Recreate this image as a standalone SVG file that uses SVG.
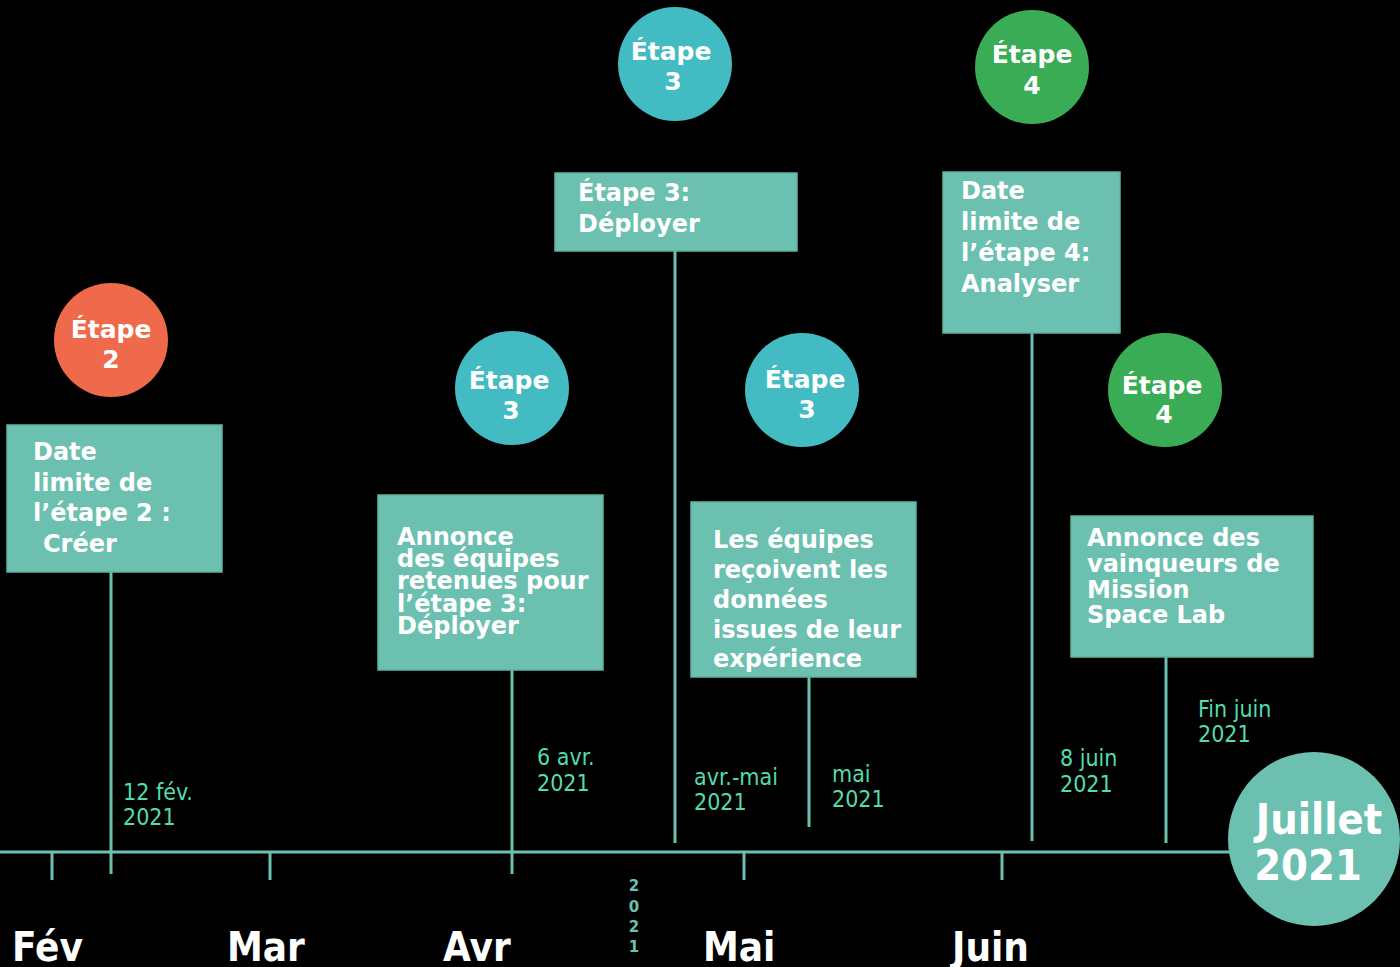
<svg xmlns="http://www.w3.org/2000/svg" width="1400" height="967" viewBox="0 0 1400 967">
<style>
.box{fill:#6cc0b0;stroke:#5fb2a2;stroke-width:1.5}
.bt{font-family:"DejaVu Sans",Verdana,sans-serif;font-weight:bold;font-size:24px;fill:#fff}
.ct{font-family:"DejaVu Sans",Verdana,sans-serif;font-weight:bold;font-size:25px;fill:#fff;text-anchor:middle}
.dt{font-family:"DejaVu Sans Condensed","DejaVu Sans",sans-serif;font-size:23px;fill:#52dcae}
.mt{font-family:"DejaVu Sans Condensed","DejaVu Sans",sans-serif;font-weight:bold;font-size:40px;fill:#fff}
.jt{font-family:"DejaVu Sans Condensed","DejaVu Sans",sans-serif;font-weight:bold;font-size:43px;fill:#fff;text-anchor:middle}
.yr{font-family:"DejaVu Sans",sans-serif;font-weight:bold;font-size:15px;fill:#6cc0b0;text-anchor:middle}
.ln{stroke:#6cc0b0;stroke-width:3;fill:none}
.orange{fill:#ef6a4a}.teal{fill:#43bbc3}.green{fill:#3aac55}
</style>
<rect width="1400" height="967" fill="#000"/>
<g id="connectors">
<line class="ln" x1="0" y1="852" x2="1235" y2="852"/>
<line class="ln" x1="52" y1="852" x2="52" y2="880"/>
<line class="ln" x1="270" y1="852" x2="270" y2="880"/>
<line class="ln" x1="744" y1="852" x2="744" y2="880"/>
<line class="ln" x1="1002" y1="852" x2="1002" y2="880"/>
<line class="ln" x1="111" y1="572" x2="111" y2="874"/>
<line class="ln" x1="512" y1="670" x2="512" y2="874"/>
<line class="ln" x1="675" y1="251" x2="675" y2="843"/>
<line class="ln" x1="809" y1="677" x2="809" y2="827"/>
<line class="ln" x1="1032" y1="333" x2="1032" y2="841"/>
<line class="ln" x1="1166" y1="657" x2="1166" y2="843"/>
</g>
<g id="c-etape2"><circle class="orange" cx="111" cy="340" r="57"/><text class="ct" x="111" y="338">Étape</text><text class="ct" x="111" y="368">2</text></g>
<g id="c-etape3-top"><circle class="teal" cx="675" cy="64" r="57"/><text class="ct" x="671" y="60">Étape</text><text class="ct" x="673" y="90">3</text></g>
<g id="c-etape3-a"><circle class="teal" cx="512" cy="388" r="57"/><text class="ct" x="509" y="389">Étape</text><text class="ct" x="511" y="419">3</text></g>
<g id="c-etape3-b"><circle class="teal" cx="802" cy="390" r="57"/><text class="ct" x="805" y="388">Étape</text><text class="ct" x="807" y="418">3</text></g>
<g id="c-etape4-top"><circle class="green" cx="1032" cy="67" r="57"/><text class="ct" x="1032" y="63">Étape</text><text class="ct" x="1032" y="94">4</text></g>
<g id="c-etape4-b"><circle class="green" cx="1165" cy="390" r="57"/><text class="ct" x="1162" y="394">Étape</text><text class="ct" x="1164" y="423">4</text></g>
<g id="b-etape2"><rect class="box" x="7" y="425" width="215" height="147"/>
<text class="bt" x="33" y="460">Date</text><text class="bt" x="33" y="491">limite de</text><text class="bt" x="33" y="521">l’étape 2 :</text><text class="bt" x="43" y="552">Créer</text></g>
<g id="b-annonce3"><rect class="box" x="378" y="495" width="225" height="175"/>
<text class="bt" x="397" y="545">Annonce</text><text class="bt" x="397" y="567">des équipes</text><text class="bt" x="397" y="589">retenues pour</text><text class="bt" x="397" y="612">l’étape 3:</text><text class="bt" x="397" y="634">Déployer</text></g>
<g id="b-deployer"><rect class="box" x="555" y="173" width="242" height="78"/>
<text class="bt" x="578" y="201">Étape 3:</text><text class="bt" x="578" y="232">Déployer</text></g>
<g id="b-donnees"><rect class="box" x="691" y="502" width="225" height="175"/>
<text class="bt" x="713" y="548">Les équipes</text><text class="bt" x="713" y="578">reçoivent les</text><text class="bt" x="713" y="608">données</text><text class="bt" x="713" y="638">issues de leur</text><text class="bt" x="713" y="667">expérience</text></g>
<g id="b-etape4"><rect class="box" x="943" y="172" width="177" height="161"/>
<text class="bt" x="961" y="199">Date</text><text class="bt" x="961" y="230">limite de</text><text class="bt" x="961" y="261">l’étape 4:</text><text class="bt" x="961" y="292">Analyser</text></g>
<g id="b-vainqueurs"><rect class="box" x="1071" y="516" width="242" height="141"/>
<text class="bt" x="1087" y="546">Annonce des</text><text class="bt" x="1087" y="572">vainqueurs de</text><text class="bt" x="1087" y="598">Mission</text><text class="bt" x="1087" y="623">Space Lab</text></g>
<g id="dates">
<text class="dt" x="123" y="800">12 fév.</text><text class="dt" x="123" y="825">2021</text>
<text class="dt" x="537" y="765">6 avr.</text><text class="dt" x="537" y="791">2021</text>
<text class="dt" x="694" y="785">avr.-mai</text><text class="dt" x="694" y="810">2021</text>
<text class="dt" x="832" y="782">mai</text><text class="dt" x="832" y="807">2021</text>
<text class="dt" x="1060" y="766">8 juin</text><text class="dt" x="1060" y="792">2021</text>
<text class="dt" x="1198" y="717">Fin juin</text><text class="dt" x="1198" y="742">2021</text>
</g>
<g id="months">
<text class="mt" x="12" y="961">Fév</text>
<text class="mt" x="227" y="961">Mar</text>
<text class="mt" x="443" y="961">Avr</text>
<text class="mt" x="703" y="961">Mai</text>
<text class="mt" x="952" y="961">Juin</text>
</g>
<g id="year-vertical">
<text class="yr" x="634" y="891">2</text><text class="yr" x="634" y="912">0</text><text class="yr" x="634" y="932">2</text><text class="yr" x="634" y="952">1</text>
</g>
<g id="juillet"><ellipse cx="1314" cy="839" rx="86" ry="87" fill="#6cc0b0"/>
<text class="jt" x="1319" y="834">Juillet</text><text class="jt" x="1308" y="880">2021</text></g>
</svg>
